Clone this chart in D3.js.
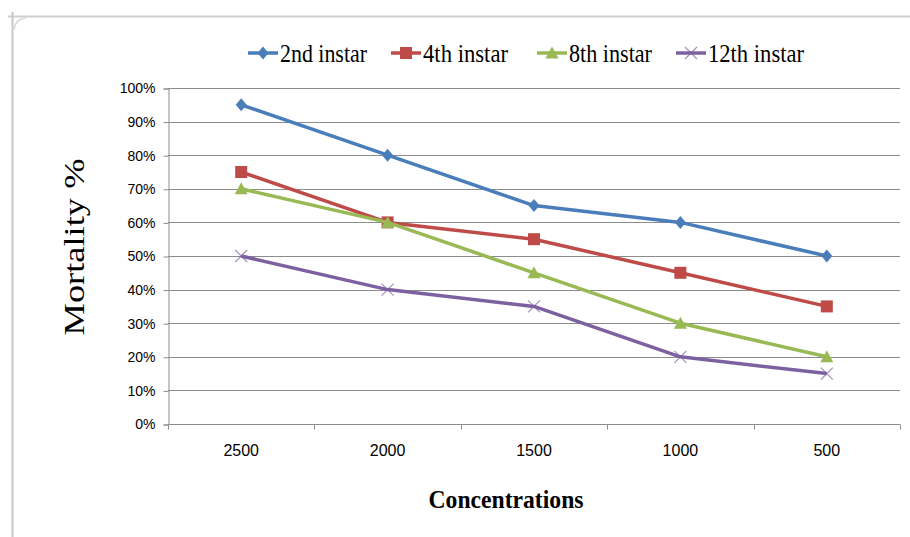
<!DOCTYPE html>
<html>
<head>
<meta charset="utf-8">
<script src="https://cdn.jsdelivr.net/npm/d3@7"></script>
<style>
  body { margin: 0; background: #fff; }
  svg { display: block; }
  .serif { font-family: "Liberation Serif", "Times New Roman", serif; }
</style>
</head>
<body>
<svg></svg>
<script>
// Chart dimensions
const width = 910;
const height = 537;
const margin = { top: 88, right: 10, bottom: 113, left: 168 };

// Data
const concentrations = ["2500", "2000", "1500", "1000", "500"];
const instar2 = [95, 80, 65, 60, 50];
const instar4 = [75, 60, 55, 45, 35];
const instar8 = [70, 60, 45, 30, 20];
const instar12 = [50, 40, 35, 20, 15];
const seriesNames = ["2nd instar", "4th instar", "8th instar", "12th instar"];
const yTicks = [0, 10, 20, 30, 40, 50, 60, 70, 80, 90, 100];

const colors = ["#4a7ebb", "#be4b48", "#98b954", "#7d60a0"];
const markers = ["diamond", "square", "triangle", "cross"];
const series = [instar2, instar4, instar8, instar12];

const svg = d3.select("svg")
    .attr("width", width)
    .attr("height", height);

// spreadsheet frame around the chart
svg.append("line")
    .attr("x1", 8).attr("x2", width).attr("y1", 16.5).attr("y2", 16.5)
    .attr("stroke", "#cfcfcf").attr("stroke-width", 2);
svg.append("line")
    .attr("x1", 12.5).attr("x2", 12.5).attr("y1", 12).attr("y2", height)
    .attr("stroke", "#c8c8c8").attr("stroke-width", 2);
svg.append("path")
    .attr("d", "M14,30 Q15,19 26,18")
    .attr("fill", "none").attr("stroke", "#d8d8d8").attr("stroke-width", 1.5);

const x = d3.scaleBand()
    .domain(concentrations)
    .range([margin.left, width - margin.right]);

const y = d3.scaleLinear()
    .domain([0, 100])
    .range([height - margin.bottom, margin.top]);

// gridlines
svg.append("g")
    .selectAll("line")
    .data(yTicks.slice(1))
    .join("line")
    .attr("x1", margin.left)
    .attr("x2", width - margin.right)
    .attr("y1", d => Math.round(y(d)) + 0.5)
    .attr("y2", d => Math.round(y(d)) + 0.5)
    .attr("stroke", "#8c8c8c")
    .attr("stroke-width", 1);

// y axis
const yAxis = svg.append("g")
    .attr("transform", `translate(${margin.left + 0.5},0.5)`)
    .call(d3.axisLeft(y).tickValues(yTicks).tickFormat(d => d + "%").tickSize(5).tickPadding(8));
yAxis.selectAll("path, line").attr("stroke", "#8c8c8c");
yAxis.selectAll("text")
    .style("font-family", "'Liberation Sans', Arial, sans-serif")
    .style("font-size", "14px")
    .attr("fill", "#000");

// x axis
const xTickPos = concentrations.map(c => x(c)).concat([width - margin.right]);
const xAxis = svg.append("g")
    .attr("transform", `translate(0,${Math.round(y(0)) + 0.5})`);
xAxis.append("line")
    .attr("x1", margin.left).attr("x2", width - margin.right)
    .attr("stroke", "#8c8c8c");
xAxis.selectAll(".tk")
    .data(xTickPos)
    .join("line")
    .attr("class", "tk")
    .attr("x1", d => Math.round(d) + 0.5).attr("x2", d => Math.round(d) + 0.5)
    .attr("y1", 0).attr("y2", 5)
    .attr("stroke", "#8c8c8c");
xAxis.selectAll("text")
    .data(concentrations)
    .join("text")
    .attr("x", d => x(d) + x.bandwidth() / 2)
    .attr("y", 31)
    .attr("text-anchor", "middle")
    .style("font-family", "'Liberation Sans', Arial, sans-serif")
    .style("font-size", "16px")
    .text(d => d);

// marker shapes
function drawMarker(g, type, color) {
    if (type === "diamond") {
        g.append("path").attr("d", "M0,-6.5L5.5,0L0,6.5L-5.5,0Z").attr("fill", color);
    } else if (type === "square") {
        g.append("rect").attr("x", -6).attr("y", -6).attr("width", 12).attr("height", 12).attr("fill", color);
    } else if (type === "triangle") {
        g.append("path").attr("d", "M0,-6.5L6.5,5.5L-6.5,5.5Z").attr("fill", color);
    } else {
        g.append("path").attr("d", "M-6,-6L6,6M-6,6L6,-6")
            .attr("stroke", color).attr("stroke-width", 1.2).attr("fill", "none").attr("opacity", 0.7);
    }
}

const line = d3.line()
    .x((d, i) => x(concentrations[i]) + x.bandwidth() / 2)
    .y(d => y(d));

series.forEach((vals, si) => {
    svg.append("path")
        .datum(vals)
        .attr("fill", "none")
        .attr("stroke", colors[si])
        .attr("stroke-width", 3.5)
        .attr("stroke-linejoin", "round")
        .attr("d", line);
    vals.forEach((v, i) => {
        const g = svg.append("g")
            .attr("transform", `translate(${x(concentrations[i]) + x.bandwidth() / 2},${y(v)})`);
        drawMarker(g, markers[si], colors[si]);
    });
});

// legend
const legendX = [248, 391, 537, 676];
seriesNames.forEach((name, i) => {
    const g = svg.append("g").attr("transform", `translate(${legendX[i]},53)`);
    g.append("line").attr("x1", 0).attr("x2", 30)
        .attr("stroke", colors[i]).attr("stroke-width", 3.5);
    const m = g.append("g").attr("transform", "translate(15,0)");
    drawMarker(m, markers[i], colors[i]);
    g.append("text")
        .attr("class", "serif")
        .attr("x", 32)
        .attr("y", 9)
        .style("font-size", "25px")
        .attr("textLength", [87, 85, 83, 96][i])
        .attr("lengthAdjust", "spacingAndGlyphs")
        .text(name);
});

// y axis label
svg.append("text")
    .attr("class", "serif")
    .attr("transform", "translate(84,247) rotate(-90)")
    .attr("text-anchor", "middle")
    .style("font-size", "30px")
    .attr("textLength", 177)
    .attr("lengthAdjust", "spacingAndGlyphs")
    .text("Mortality %");

// x axis label
svg.append("text")
    .attr("class", "serif")
    .attr("x", 506)
    .attr("y", 508)
    .attr("text-anchor", "middle")
    .style("font-weight", "bold")
    .style("font-size", "25px")
    .attr("textLength", 155)
    .attr("lengthAdjust", "spacingAndGlyphs")
    .text("Concentrations");
</script>
</body>
</html>
